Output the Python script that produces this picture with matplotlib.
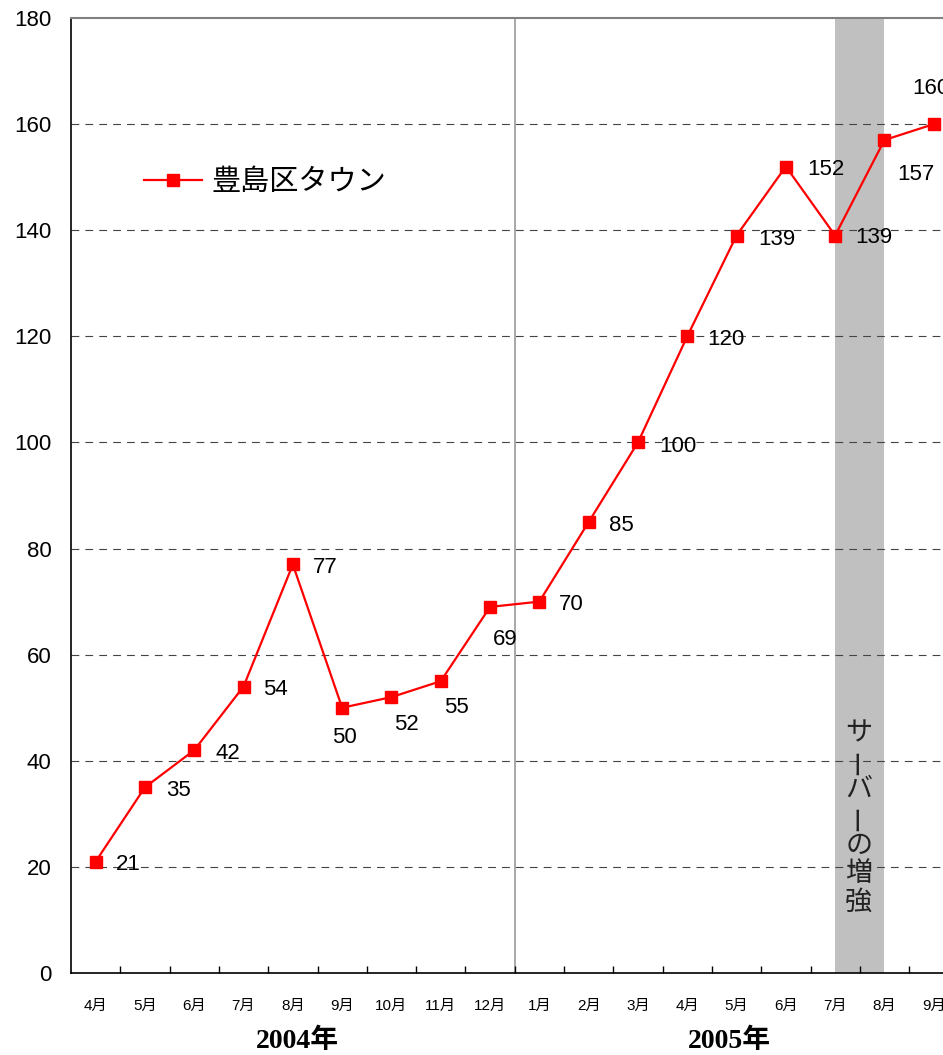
import matplotlib
matplotlib.use('Agg')
import matplotlib.pyplot as plt

plt.rcParams['font.family'] = ['Liberation Sans', 'Noto Sans CJK JP', 'DejaVu Sans']

# data
months = ['4月', '5月', '6月', '7月', '8月', '9月', '10月', '11月', '12月',
          '1月', '2月', '3月', '4月', '5月', '6月', '7月', '8月', '9月']
users = [21, 35, 42, 54, 77, 50, 52, 55, 69, 70, 85, 100, 120, 139, 152, 139, 157, 160]
years = ['2004年', '2005年']
series_name = '豊島区タウン'
note = 'サーバーの増強'

# label offsets in pixels (dx right, dy down) as placed in the original
lab_off = [(20, 3), (21, 3), (21, 3), (20, 3), (20, 3), (-10, 30), (3, 27), (3, 26),
           (3, 33), (20, 3), (20, 3), (21, 4), (20, 3), (22, 4), (21, 3), (20, 2),
           (13, 34), (-22, -36)]

fig = plt.figure(figsize=(9.43, 10.55), dpi=100)
ax = fig.add_axes([71 / 943, 82 / 1055, 887.4 / 943, 955 / 1055])

x = list(range(len(months)))
ax.set_xlim(-0.5, len(months) - 0.5)
ax.set_ylim(0, 180)

# server upgrade band
ax.axvspan(15, 16, color='#c0c0c0', zorder=0, lw=0)
# year separator
ax.axvline(8.5, color='#999999', lw=1.2, zorder=1)

# grid
for yv in range(20, 180, 20):
    ax.axhline(yv, color='#444444', lw=0.8, ls=(0, (7, 5.5)), zorder=1)

ax.plot(x, users, color='#ff0000', lw=1.6, marker='s', ms=9, mec='#ff0000',
        mfc='#ff0000', zorder=3, label=series_name)

for i, v in enumerate(users):
    dx, dy = lab_off[i]
    ax.annotate(str(v), (i, v), xytext=(dx, -dy), textcoords='offset pixels',
                ha='left', va='center', fontsize=16, color='black', zorder=4)

# spines
ax.spines['right'].set_visible(False)
ax.spines['top'].set_color('#808080')
ax.spines['top'].set_linewidth(1.5)
ax.spines['left'].set_linewidth(1.2)
ax.spines['bottom'].set_linewidth(1.2)

ax.set_yticks(range(0, 181, 20))
ax.tick_params(axis='y', length=0, pad=14, labelsize=16)
ax.set_xticks(x)
ax.set_xticklabels(months)
ax.set_xticks([i + 0.5 for i in range(len(months) - 1)], minor=True)
ax.tick_params(axis='x', which='major', length=0, pad=19, labelsize=11)
ax.tick_params(axis='x', which='minor', direction='in', length=5, width=1)

# year labels
for xc, yr in zip([4.1, 12.85], years):
    ax.text(xc, -0.072, yr, transform=ax.get_xaxis_transform(), ha='center',
            va='center', fontsize=20, fontweight='bold',
            family=['Liberation Serif', 'Noto Sans CJK JP'])

# vertical note inside the band
for k, ch in enumerate(note):
    yy = 45.2 - k * 5.3
    ax.text(15.48, yy, ch, ha='center', va='center', fontsize=19.5,
            rotation=90 if ch == 'ー' else 0, color='#222222', zorder=2,
            family=['Noto Sans CJK JP'])

ax.legend(loc='center left', bbox_to_anchor=(144 / 943, 1 - 182 / 1055),
          bbox_transform=fig.transFigure, frameon=False,
          handlelength=2.0, handletextpad=0.3, borderpad=0, borderaxespad=0,
          prop={'family': ['Noto Sans CJK JP'], 'size': 21})

fig.savefig('out.png', dpi=100)
